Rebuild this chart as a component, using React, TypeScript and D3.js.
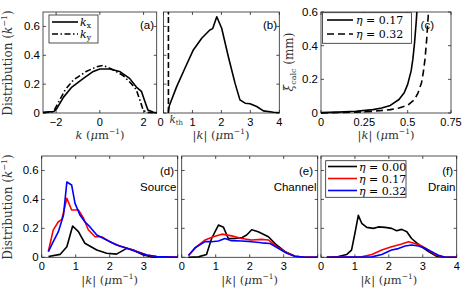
import * as d3 from "d3";
import React from "react";

// ---- data ----
// (a) k_x / k_y distributions
const kxK = [-2.6, -2.3, -2.1, -1.97, -1.66, -1.28, -0.75, -0.3, 0, 0.46, 0.9, 1.36, 1.67, 1.9, 2.06, 2.2, 2.45, 2.6];
const kxVal = [0.005, 0.008, 0.01, 0.03, 0.11, 0.18, 0.24, 0.288, 0.305, 0.305, 0.288, 0.24, 0.18, 0.15, 0.08, 0.02, 0.005, 0.002];
const kyK = [-2.6, -2.3, -2.12, -1.8, -1.59, -1.2, -0.6, -0.15, 0.15, 0.6, 1.06, 1.46, 1.67, 1.83, 1.98, 2.13, 2.6];
const kyVal = [0.002, 0.005, 0.01, 0.1, 0.16, 0.23, 0.29, 0.32, 0.33, 0.3, 0.26, 0.2, 0.16, 0.09, 0.02, 0.005, 0.0];

// (b) |k| distribution
const bK = [0.17, 0.2, 0.455, 0.74, 1.03, 1.32, 1.6, 1.7, 1.84, 2.01, 2.24, 2.47, 2.64, 2.82, 2.99, 3.22, 3.45, 3.8, 4];
const bVal = [0.01, 0.05, 0.183, 0.31, 0.437, 0.518, 0.575, 0.585, 0.667, 0.587, 0.39, 0.207, 0.091, 0.068, 0.064, 0.045, 0.015, 0.005, 0.002];
const kTh = 0.17;

// (c) xi_calc
const c17K = [0, 0.1, 0.2, 0.3, 0.35, 0.4, 0.45, 0.48, 0.5, 0.52, 0.53, 0.54, 0.55, 0.553];
const c17Val = [0.002, 0.005, 0.01, 0.02, 0.03, 0.045, 0.08, 0.12, 0.17, 0.25, 0.32, 0.42, 0.55, 0.6];
const c32K = [0, 0.2, 0.3, 0.4, 0.45, 0.5, 0.54, 0.56, 0.58, 0.59, 0.6, 0.61, 0.62];
const c32Val = [0.001, 0.005, 0.01, 0.02, 0.03, 0.045, 0.08, 0.12, 0.18, 0.24, 0.32, 0.44, 0.6];

// (d) Source
const dBlueK = [0.195, 0.34, 0.49, 0.64, 0.74, 0.88, 0.98, 1.13, 1.27, 1.42, 1.62, 1.91, 2.2, 2.5, 2.79, 3.09, 3.38, 4];
const dBlueVal = [0.039, 0.108, 0.177, 0.29, 0.52, 0.5, 0.373, 0.29, 0.246, 0.21, 0.154, 0.12, 0.085, 0.062, 0.039, 0.016, 0.005, 0];
const dRedK = [0.195, 0.34, 0.49, 0.59, 0.74, 0.88, 1.08, 1.23, 1.37, 1.57, 1.76, 2.0, 2.3, 2.69, 3.09, 3.38, 4];
const dRedVal = [0.04, 0.19, 0.246, 0.26, 0.408, 0.327, 0.327, 0.27, 0.19, 0.142, 0.142, 0.108, 0.078, 0.05, 0.016, 0.005, 0];
const dBlackK = [0.2, 0.54, 0.74, 0.91, 1.08, 1.27, 1.62, 1.91, 2.2, 2.5, 2.69, 2.99, 3.28, 4];
const dBlackVal = [0.005, 0.02, 0.073, 0.216, 0.177, 0.097, 0.05, 0.028, 0.022, 0.062, 0.05, 0.016, 0.0, 0];

// (e) Channel
const eBlackK = [0.196, 0.49, 0.73, 0.88, 1.08, 1.23, 1.37, 1.57, 1.78, 1.91, 2.06, 2.25, 2.55, 2.79, 3.04, 3.33, 3.63, 4];
const eBlackVal = [0, 0.003, 0.02, 0.13, 0.223, 0.207, 0.13, 0.13, 0.137, 0.154, 0.19, 0.177, 0.142, 0.085, 0.039, 0.007, 0, 0];
const eRedK = [0.2, 0.44, 0.69, 0.93, 1.18, 1.47, 1.76, 2.06, 2.35, 2.55, 2.79, 3.04, 3.33, 3.63, 4];
const eRedVal = [0.012, 0.073, 0.12, 0.142, 0.16, 0.148, 0.13, 0.12, 0.124, 0.12, 0.073, 0.039, 0.007, 0, 0];
const eBlueK = [0.2, 0.39, 0.69, 0.88, 1.08, 1.27, 1.47, 1.76, 2.06, 2.35, 2.6, 2.84, 3.09, 3.33, 3.63, 4];
const eBlueVal = [0.012, 0.066, 0.108, 0.108, 0.113, 0.13, 0.115, 0.113, 0.108, 0.1, 0.095, 0.062, 0.028, 0.007, 0, 0];

// (f) Drain
const fBlackK = [0.17, 0.51, 0.76, 0.9, 1.0, 1.1, 1.2, 1.35, 1.54, 1.69, 1.89, 2.08, 2.23, 2.38, 2.53, 2.67, 2.82, 2.97, 3.17, 3.41, 3.66, 4];
const fBlackVal = [0, 0.005, 0.02, 0.05, 0.166, 0.29, 0.235, 0.207, 0.2, 0.21, 0.207, 0.2, 0.184, 0.193, 0.177, 0.13, 0.1, 0.073, 0.039, 0.007, 0, 0];
const fRedK = [0.17, 1.2, 1.5, 1.79, 2.08, 2.38, 2.58, 2.77, 2.97, 3.17, 3.41, 3.66, 4];
const fRedVal = [0, 0.003, 0.02, 0.05, 0.073, 0.092, 0.108, 0.096, 0.078, 0.05, 0.014, 0, 0];
const fBlueK = [0.17, 1.5, 1.79, 2.08, 2.28, 2.48, 2.67, 2.87, 3.07, 3.26, 3.46, 3.66, 4];
const fBlueVal = [0, 0.003, 0.02, 0.05, 0.06, 0.078, 0.085, 0.078, 0.062, 0.039, 0.014, 0, 0];

const etaLabels = ["0.00", "0.17", "0.32"];
const distTicks = [0, 0.2, 0.4, 0.6];
const xiTicks = [0, 0.2, 0.4, 0.6];
const aTicks = [-2, 0, 2];
const kTicks = [0, 1, 2, 3, 4];
const cTicks = [0, 0.25, 0.5, 0.75];

const SANS = "'Liberation Sans', Arial, sans-serif";
const SERIF = "'DejaVu Serif', 'Liberation Serif', serif";
const AX = "#262626";

type Scale = d3.ScaleLinear<number, number>;

function Frame({ xs, ys, xTicks, yTicks, xLabels, yLabels }: {
  xs: Scale; ys: Scale; xTicks: number[]; yTicks: number[];
  xLabels?: (string | null)[]; yLabels?: string[] | null;
}) {
  const [x0, x1] = xs.range();
  const [y0, y1] = ys.range();
  const t = 3;
  return (
    <g>
      <rect x={x0} y={y1} width={x1 - x0} height={y0 - y1} fill="none" stroke={AX} strokeWidth={0.8} />
      {xTicks.map((v, i) => (
        <g key={"x" + v}>
          <line x1={xs(v)} x2={xs(v)} y1={y0} y2={y0 - t} stroke={AX} strokeWidth={0.8} />
          <line x1={xs(v)} x2={xs(v)} y1={y1} y2={y1 + t} stroke={AX} strokeWidth={0.8} />
          {xLabels && xLabels[i] != null && (
            <text x={xs(v)} y={y0 + 12.5} textAnchor="middle" fontFamily={SANS} fontSize={11} fill="#000">
              {xLabels[i]}
            </text>
          )}
        </g>
      ))}
      {yTicks.map((v, i) => (
        <g key={"y" + v}>
          <line x1={x0} x2={x0 + t} y1={ys(v)} y2={ys(v)} stroke={AX} strokeWidth={0.8} />
          <line x1={x1} x2={x1 - t} y1={ys(v)} y2={ys(v)} stroke={AX} strokeWidth={0.8} />
          {yLabels && (
            <text x={x0 - 3} y={ys(v) + 4} textAnchor="end" fontFamily={SANS} fontSize={11.5} fill="#000">
              {yLabels[i]}
            </text>
          )}
        </g>
      ))}
    </g>
  );
}

function Curve({ xs, ys, k, v, color = "#000", dash, width = 1.6 }: {
  xs: Scale; ys: Scale; k: number[]; v: number[]; color?: string; dash?: string; width?: number;
}) {
  const pts = k.map((kk, i) => [kk, v[i]] as [number, number]);
  const line = d3.line<[number, number]>().x((d) => xs(d[0])).y((d) => ys(d[1]));
  return <path d={line(pts) ?? ""} fill="none" stroke={color} strokeWidth={width} strokeDasharray={dash} strokeLinejoin="round" />;
}

function KLabel({ x, y, abs }: { x: number; y: number; abs: boolean }) {
  return (
    <text x={x} y={y} textAnchor="middle" fontFamily={SERIF} fontSize={11.5} fill="#333">
      {abs ? "|" : ""}
      <tspan fontStyle="italic">k</tspan>
      {abs ? "|" : ""}
      {"  ("}
      <tspan fontStyle="italic">μ</tspan>m
      <tspan fontSize={7.5} dy={-5}>−1</tspan>
      <tspan dy={5}>)</tspan>
    </text>
  );
}

function DistLabel({ x, y }: { x: number; y: number }) {
  return (
    <text transform={`translate(${x},${y}) rotate(-90)`} textAnchor="middle" fontFamily={SERIF} fontSize={12} fill="#333">
      Distribution (<tspan fontStyle="italic">k</tspan>
      <tspan fontSize={8} dy={-5}>−1</tspan>
      <tspan dy={5}>)</tspan>
    </text>
  );
}

export default function App() {
  const W = 469;
  const H = 291;
  const distDomain: [number, number] = [0, 0.7];

  // row 1
  const rowTop = 12, rowBot = 113;
  const xa = d3.scaleLinear().domain([-2.6, 2.6]).range([43, 156.7]);
  const ya = d3.scaleLinear().domain(distDomain).range([rowBot, rowTop]);
  const xb = d3.scaleLinear().domain([0, 4]).range([163.5, 279.3]);
  const xc = d3.scaleLinear().domain([0, 0.75]).range([321, 451]);
  const yc = d3.scaleLinear().domain([0, 0.6]).range([rowBot, rowTop]);

  // row 2
  const row2Top = 156, row2Bot = 257.3;
  const yr = d3.scaleLinear().domain(distDomain).range([row2Bot, row2Top]);
  const xd = d3.scaleLinear().domain([0, 4]).range([41.7, 177.7]);
  const xe = d3.scaleLinear().domain([0, 4]).range([181.7, 317.7]);
  const xf = d3.scaleLinear().domain([0, 4]).range([321, 456.7]);

  const distLabels = distTicks.map((d) => (d === 0 ? "0" : d.toFixed(1)));
  const colors = ["#000000", "#ff0000", "#0000ff"];

  const panelText = (x: number, y: number, s: string) => (
    <text x={x} y={y} textAnchor="end" fontFamily={SANS} fontSize={11.5} fill="#000">{s}</text>
  );

  return (
    <svg width={W} height={H} style={{ position: "absolute", left: 0, top: 0, background: "#fff" }}>
      {/* (a) */}
      <Frame xs={xa} ys={ya} xTicks={aTicks} yTicks={distTicks}
        xLabels={aTicks.map((d) => (d < 0 ? "−" + Math.abs(d) : String(d)))} yLabels={distLabels} />
      <Curve xs={xa} ys={ya} k={kxK} v={kxVal} />
      <Curve xs={xa} ys={ya} k={kyK} v={kyVal} dash="6 2.5 1.5 2.5" />
      <rect x={49} y={15} width={49} height={28} fill="#fff" stroke={AX} strokeWidth={0.8} />
      <line x1={52} x2={78} y1={22} y2={22} stroke="#000" strokeWidth={1.6} />
      <line x1={52} x2={78} y1={34} y2={34} stroke="#000" strokeWidth={1.6} strokeDasharray="6 2.5 1.5 2.5" />
      <text x={80} y={26} fontFamily={SERIF} fontSize={11} fontStyle="italic">k<tspan fontSize={7.5} dy={2} fontStyle="normal">x</tspan></text>
      <text x={80} y={38} fontFamily={SERIF} fontSize={11} fontStyle="italic">k<tspan fontSize={7.5} dy={2} fontStyle="normal">y</tspan></text>
      {panelText(154, 29, "(a)")}
      <DistLabel x={12} y={63} />
      <KLabel x={100} y={138.5} abs={false} />

      {/* (b) */}
      <Frame xs={xb} ys={ya} xTicks={[...kTicks, kTh]} yTicks={distTicks}
        xLabels={["0", "1", "2", "3", "4", null].map((s, i) => (i === 0 ? null : s))} />
      <text x={xb(0) - 3} y={rowBot + 12.5} textAnchor="middle" fontFamily={SANS} fontSize={11}>0</text>
      <text x={xb(kTh) + 1} y={rowBot + 10} fontFamily={SERIF} fontSize={10.5} fontStyle="italic" fill="#333">
        k<tspan fontSize={7} dy={2} fontStyle="normal">th</tspan>
      </text>
      <line x1={xb(kTh)} x2={xb(kTh)} y1={rowBot} y2={rowTop} stroke="#000" strokeWidth={1.6} strokeDasharray="6 3" />
      <Curve xs={xb} ys={ya} k={bK} v={bVal} />
      {panelText(277, 29, "(b)")}
      <KLabel x={221} y={138.5} abs={true} />

      {/* (c) */}
      <Frame xs={xc} ys={yc} xTicks={cTicks} yTicks={xiTicks}
        xLabels={cTicks.map((d) => String(d))} yLabels={xiTicks.map((d) => (d === 0 ? "0" : d.toFixed(1)))} />
      <Curve xs={xc} ys={yc} k={c17K} v={c17Val} />
      <Curve xs={xc} ys={yc} k={c32K} v={c32Val} dash="7 4" />
      <rect x={322.5} y={12.7} width={89} height={30.6} fill="#fff" stroke={AX} strokeWidth={0.8} />
      <line x1={327} x2={353} y1={20} y2={20} stroke="#000" strokeWidth={1.6} />
      <line x1={327} x2={353} y1={34} y2={34} stroke="#000" strokeWidth={1.6} strokeDasharray="7 4" />
      <text x={356} y={24} fontFamily={SERIF} fontSize={11}><tspan fontStyle="italic">η</tspan> = 0.17</text>
      <text x={356} y={38} fontFamily={SERIF} fontSize={11}><tspan fontStyle="italic">η</tspan> = 0.32</text>
      {panelText(434, 29, "(c)")}
      <text transform="translate(293,62) rotate(-90)" textAnchor="middle" fontFamily={SERIF} fontSize={12} fill="#333">
        <tspan fontStyle="italic">ξ</tspan>
        <tspan fontSize={8} dy={3}>calc</tspan>
        <tspan dy={-3}> (mm)</tspan>
      </text>
      <KLabel x={386} y={138.5} abs={true} />

      {/* (d) Source */}
      <Frame xs={xd} ys={yr} xTicks={kTicks} yTicks={distTicks}
        xLabels={["0", "1", "2", "3", null]} yLabels={distLabels} />
      <Curve xs={xd} ys={yr} k={dBlackK} v={dBlackVal} color={colors[0]} />
      <Curve xs={xd} ys={yr} k={dRedK} v={dRedVal} color={colors[1]} />
      <Curve xs={xd} ys={yr} k={dBlueK} v={dBlueVal} color={colors[2]} />
      {panelText(174, 175, "(d)")}
      {panelText(176.5, 191, "Source")}
      <DistLabel x={12} y={207} />
      <KLabel x={xd(2)} y={284} abs={true} />

      {/* (e) Channel */}
      <Frame xs={xe} ys={yr} xTicks={kTicks} yTicks={distTicks}
        xLabels={["0", "1", "2", "3", null]} />
      <Curve xs={xe} ys={yr} k={eBlackK} v={eBlackVal} color={colors[0]} />
      <Curve xs={xe} ys={yr} k={eRedK} v={eRedVal} color={colors[1]} />
      <Curve xs={xe} ys={yr} k={eBlueK} v={eBlueVal} color={colors[2]} />
      {panelText(313, 175, "(e)")}
      {panelText(316.5, 191, "Channel")}
      <KLabel x={xe(2)} y={284} abs={true} />

      {/* (f) Drain */}
      <Frame xs={xf} ys={yr} xTicks={kTicks} yTicks={distTicks}
        xLabels={["0", "1", "2", "3", "4"]} />
      <Curve xs={xf} ys={yr} k={fBlackK} v={fBlackVal} color={colors[0]} />
      <Curve xs={xf} ys={yr} k={fRedK} v={fRedVal} color={colors[1]} />
      <Curve xs={xf} ys={yr} k={fBlueK} v={fBlueVal} color={colors[2]} />
      <rect x={325.7} y={160.7} width={80.3} height={36.6} fill="#fff" stroke={AX} strokeWidth={0.8} />
      {etaLabels.map((lab, i) => (
        <g key={lab}>
          <line x1={328} x2={357} y1={166.5 + i * 12} y2={166.5 + i * 12} stroke={colors[i]} strokeWidth={1.6} />
          <text x={359} y={170.5 + i * 12} fontFamily={SERIF} fontSize={11}>
            <tspan fontStyle="italic">η</tspan> = {lab}
          </text>
        </g>
      ))}
      {panelText(453, 175, "(f)")}
      {panelText(455.5, 191, "Drain")}
      <KLabel x={xf(2)} y={284} abs={true} />
    </svg>
  );
}
